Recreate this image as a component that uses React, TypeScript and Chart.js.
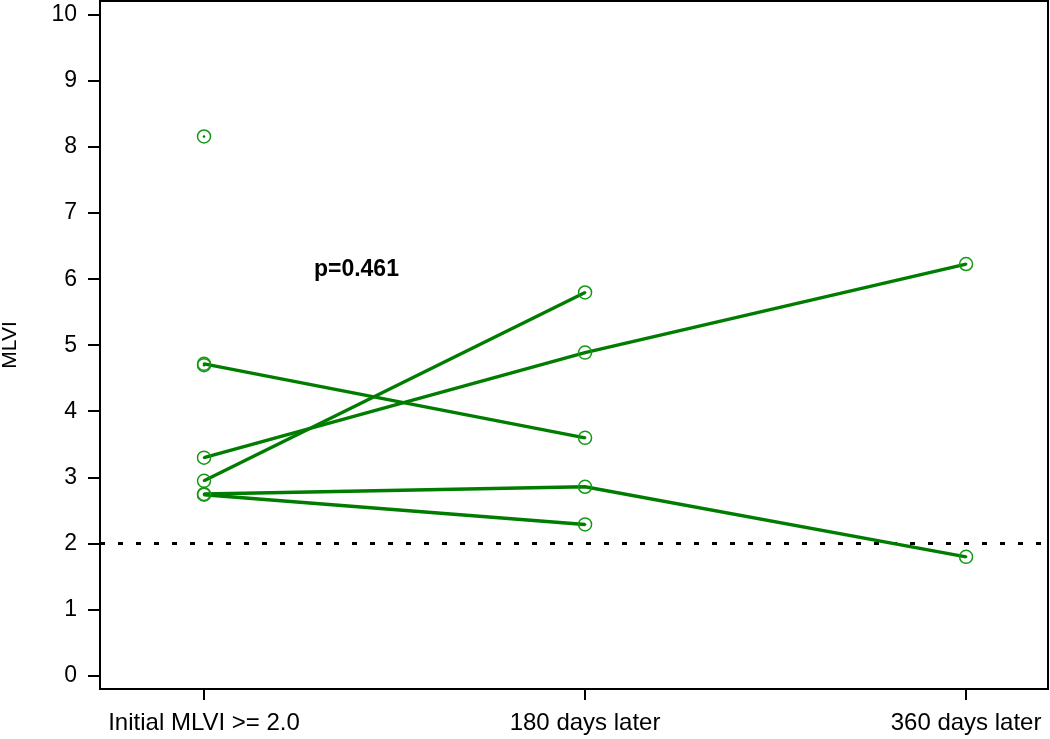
import React, { useEffect, useRef } from "react";
import { Chart, registerables } from "chart.js";

Chart.register(...registerables);

const categories = ["Initial MLVI >= 2.0", "180 days later", "360 days later"];
const yTickValues = [0, 1, 2, 3, 4, 5, 6, 7, 8, 9, 10];

// MLVI per subject at each visit (null = not measured)
const subjectA = [2.95, 5.8, null];
const subjectB = [3.3, 4.89, 6.23];
const subjectC = [4.72, 3.6, null];
const subjectD = [2.75, 2.86, 1.8];
const subjectE = [2.74, 2.29, null];
const subjectF = [8.16, null, null];
const subjectG = [4.7, null, null];

const subjects = [subjectA, subjectB, subjectC, subjectD, subjectE, subjectF, subjectG];
const threshold = 2.0;
const pValueLabel = "p=0.461";
const pValueAt = { x: 0.4, y: 6.14 };

const LINE_GREEN = "#007d00";
const MARK_GREEN = "#129a12";
const FONT = "'Liberation Sans', Arial, Helvetica, sans-serif";

function zeroPadding(scale: any) {
  scale.paddingLeft = 0;
  scale.paddingRight = 0;
  scale.paddingTop = 0;
  scale.paddingBottom = 0;
}

export default function App() {
  const ref = useRef<HTMLCanvasElement | null>(null);

  useEffect(() => {
    if (!ref.current) return;
    const toPoints = (arr: (number | null)[]) =>
      arr.map((v, i) => (v === null ? null : { x: i, y: v })).filter((p) => p !== null) as { x: number; y: number }[];

    const lineSets = subjects.map((s) => ({
      data: toPoints(s),
      showLine: true,
      borderColor: LINE_GREEN,
      borderWidth: 3.4,
      pointRadius: 6.5,
      pointBorderWidth: 1.5,
      pointBorderColor: MARK_GREEN,
      pointBackgroundColor: "rgba(0,0,0,0)",
      pointStyle: "circle" as const,
    }));
    const dotSets = subjects.map((s) => ({
      data: toPoints(s),
      showLine: false,
      pointRadius: 1.3,
      pointBorderWidth: 0,
      pointBackgroundColor: LINE_GREEN,
      pointBorderColor: LINE_GREEN,
    }));

    const extras = {
      id: "extras",
      beforeDatasetsDraw(chart: any) {
        const { ctx, chartArea, scales } = chart;
        const y = scales.y.getPixelForValue(threshold);
        ctx.save();
        ctx.strokeStyle = "#000";
        ctx.lineWidth = 3;
        ctx.setLineDash([5, 13]);
        ctx.beginPath();
        ctx.moveTo(chartArea.left, y);
        ctx.lineTo(chartArea.right, y);
        ctx.stroke();
        ctx.restore();
      },
      afterDraw(chart: any) {
        const { ctx, chartArea, scales } = chart;
        ctx.save();
        ctx.strokeStyle = "#000";
        ctx.lineWidth = 2;
        ctx.strokeRect(chartArea.left, chartArea.top, chartArea.right - chartArea.left, chartArea.bottom - chartArea.top);
        ctx.fillStyle = "#000";
        ctx.font = `bold 23px ${FONT}`;
        ctx.textAlign = "center";
        ctx.textBaseline = "middle";
        ctx.fillText(pValueLabel, scales.x.getPixelForValue(pValueAt.x), scales.y.getPixelForValue(pValueAt.y));
        ctx.restore();
      },
    };

    const chart = new Chart(ref.current, {
      type: "scatter",
      data: { datasets: [...lineSets, ...dotSets] as any },
      options: {
        animation: false,
        responsive: false,
        layout: { autoPadding: false, padding: { top: 1, right: 2, left: 0, bottom: 0 } },
        plugins: { legend: { display: false }, tooltip: { enabled: false } },
        scales: {
          x: {
            type: "linear",
            min: -0.273,
            max: 2.215,
            afterFit(scale: any) {
              scale.height = 50;
              zeroPadding(scale);
            },
            afterBuildTicks(scale: any) {
              scale.ticks = categories.map((_, i) => ({ value: i }));
            },
            ticks: {
              color: "#000",
              font: { family: FONT, size: 24 },
              padding: 9,
              maxRotation: 0,
              autoSkip: false,
              callback: (v: any) => categories[Number(v)] ?? "",
            },
            grid: { drawOnChartArea: false, drawTicks: true, tickLength: 11, color: "#000", lineWidth: 2 },
            border: { color: "#000", width: 2 },
          },
          y: {
            type: "linear",
            min: -0.2,
            max: 10.21,
            afterFit(scale: any) {
              scale.width = 100;
              zeroPadding(scale);
            },
            afterBuildTicks(scale: any) {
              scale.ticks = yTickValues.map((v) => ({ value: v }));
            },
            ticks: {
              color: "#000",
              font: { family: FONT, size: 23 },
              padding: 11,
            },
            grid: { drawOnChartArea: false, drawTicks: true, tickLength: 12, color: "#000", lineWidth: 2 },
            border: { color: "#000", width: 2 },
            title: {
              display: true,
              text: "MLVI",
              color: "#000",
              font: { family: FONT, size: 21, lineHeight: 1 },
              padding: { top: 0, bottom: 0 },
            },
          },
        },
      },
      plugins: [extras],
    });
    return () => chart.destroy();
  }, []);

  return (
    <div style={{ position: "absolute", left: 0, top: 0, width: 1050, height: 739, background: "#fff" }}>
      <canvas ref={ref} width={1050} height={739} style={{ display: "block" }} />
    </div>
  );
}
